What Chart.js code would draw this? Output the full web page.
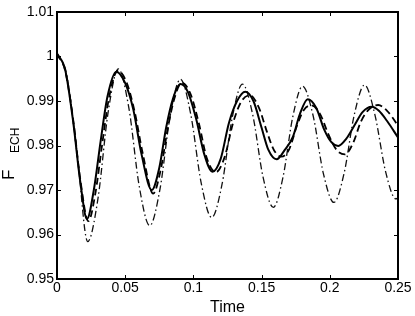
<!DOCTYPE html>
<html>
<head>
<meta charset="utf-8">
<script src="https://cdn.jsdelivr.net/npm/chart.js@4"></script>
<style>
  body { margin: 0; background: #fff; }
  canvas { display: block; }
</style>
</head>
<body>
<canvas id="fechChart" width="415" height="316"></canvas>
<script>
// solid curve
const solidT = [0, 0.006, 0.012, 0.017, 0.022, 0.027, 0.032, 0.037, 0.0435, 0.05, 0.056, 0.062, 0.0695,
  0.075, 0.08, 0.085, 0.0905, 0.096, 0.102, 0.108, 0.114, 0.12, 0.126, 0.132, 0.138, 0.144, 0.15, 0.155,
  0.161, 0.167, 0.173, 0.178, 0.1838, 0.19, 0.196, 0.201, 0.2062, 0.212, 0.218, 0.224, 0.2307, 0.236, 0.242, 0.25];
const solidV = [1.0007, 0.997, 0.985, 0.972, 0.9635, 0.970, 0.981, 0.991, 0.9966, 0.994, 0.988, 0.978, 0.970,
  0.975, 0.984, 0.9905, 0.9938, 0.992, 0.986, 0.978, 0.9741, 0.977, 0.985, 0.990, 0.9921, 0.990, 0.984, 0.979,
  0.9769, 0.979, 0.982, 0.987, 0.9904, 0.9885, 0.9835, 0.9808, 0.9799, 0.9815, 0.9845, 0.9875, 0.9887, 0.9878, 0.9855, 0.9818];

// dashed curve
const dashT = [0, 0.006, 0.012, 0.017, 0.023, 0.028, 0.033, 0.038, 0.0445, 0.051, 0.057, 0.063, 0.0705,
  0.076, 0.081, 0.086, 0.0915, 0.098, 0.104, 0.11, 0.1165, 0.123, 0.129, 0.135, 0.1415, 0.148, 0.154, 0.159,
  0.1645, 0.17, 0.176, 0.181, 0.1865, 0.193, 0.199, 0.205, 0.2111, 0.217, 0.223, 0.229, 0.2355, 0.242, 0.25];
const dashV = [1.0005, 0.9968, 0.9855, 0.9725, 0.963, 0.969, 0.980, 0.9905, 0.9968, 0.9942, 0.9875, 0.978, 0.9692,
  0.9745, 0.9835, 0.9905, 0.9941, 0.9915, 0.985, 0.977, 0.974, 0.9775, 0.985, 0.9898, 0.9913, 0.9885, 0.983, 0.979,
  0.9775, 0.979, 0.9845, 0.988, 0.989, 0.987, 0.9825, 0.979, 0.978, 0.9805, 0.9855, 0.9882, 0.9891, 0.9878, 0.9845];

// dash-dot curve
const dotT = [0, 0.007, 0.015, 0.0225, 0.03, 0.0375, 0.045, 0.0527, 0.0603, 0.068, 0.0755, 0.083, 0.0905,
  0.098, 0.1057, 0.1134, 0.121, 0.1285, 0.136, 0.1435, 0.151, 0.1586, 0.1657, 0.1729, 0.18, 0.1877, 0.1953,
  0.203, 0.2105, 0.218, 0.2255, 0.233, 0.241, 0.2485, 0.25];
const dotV = [1.0007, 0.996, 0.9775, 0.9584, 0.968, 0.9875, 0.9972, 0.9884, 0.9708, 0.962, 0.9702, 0.9867, 0.9949,
  0.9871, 0.9716, 0.9638, 0.9713, 0.9863, 0.9938, 0.9869, 0.973, 0.9661, 0.9729, 0.9865, 0.9933, 0.9868, 0.9737,
  0.9672, 0.9738, 0.987, 0.9936, 0.987, 0.974, 0.968, 0.9682];

const xTicks = [0, 0.05, 0.1, 0.15, 0.2, 0.25];
const yTicks = [0.95, 0.96, 0.97, 0.98, 0.99, 1, 1.01];

const pts = (t, v) => t.map((x, i) => ({ x: x, y: v[i] }));
const fmt = v => String(+v.toFixed(2));
const font = "'Liberation Sans', Arial, sans-serif";

// box with inward ticks on all four sides, plus the F_ECH label
const boxPlugin = {
  id: "box",
  afterDraw(chart) {
    const c = chart.ctx;
    const a = chart.chartArea;
    const xs = chart.scales.x, ys = chart.scales.y;
    c.save();
    c.strokeStyle = "#000";
    c.lineWidth = 1;
    xTicks.forEach(v => {
      const px = Math.round(xs.getPixelForValue(v)) + 0.5;
      c.beginPath();
      c.moveTo(px, a.bottom); c.lineTo(px, a.bottom - 4);
      c.moveTo(px, a.top); c.lineTo(px, a.top + 4);
      c.stroke();
    });
    yTicks.forEach(v => {
      const py = Math.round(ys.getPixelForValue(v)) + 0.5;
      c.beginPath();
      c.moveTo(a.left, py); c.lineTo(a.left + 4, py);
      c.moveTo(a.right, py); c.lineTo(a.right - 4, py);
      c.stroke();
    });
    c.lineWidth = 2;
    c.strokeRect(a.left, a.top, a.right - a.left, a.bottom - a.top);

    c.translate(14, 180);
    c.rotate(-Math.PI / 2);
    c.fillStyle = "#000";
    c.textBaseline = "alphabetic";
    c.font = "17px " + font;
    c.fillText("F", 0, 0);
    c.font = "12px " + font;
    c.fillText("ECH", 27, 5);
    c.restore();
  }
};

const ctx = document.getElementById("fechChart").getContext("2d");

new Chart(ctx, {
  type: "line",
  data: {
    datasets: [
      {
        data: pts(solidT, solidV),
        borderColor: "#000",
        borderWidth: 2,
      },
      {
        data: pts(dashT, dashV),
        borderColor: "#000",
        borderWidth: 1.8,
        borderDash: [7, 4],
      },
      {
        data: pts(dotT, dotV),
        borderColor: "#111",
        borderWidth: 1.3,
        borderDash: [7, 3, 1.5, 3],
      },
    ],
  },
  options: {
    responsive: false,
    animation: false,
    devicePixelRatio: 1,
    layout: { padding: { top: 12, right: 17, left: 0, bottom: 0 } },
    elements: {
      point: { radius: 0 },
      line: { cubicInterpolationMode: "monotone", fill: false },
    },
    scales: {
      x: {
        type: "linear",
        min: 0,
        max: 0.25,
        afterFit: s => { s.height = 37; },
        afterBuildTicks: s => { s.ticks = xTicks.map(v => ({ value: v })); },
        grid: { display: false, drawTicks: false },
        border: { display: false },
        ticks: {
          padding: 1,
          maxRotation: 0,
          color: "#000",
          font: { family: font, size: 14 },
          callback: fmt,
        },
        title: {
          display: true,
          text: "Time",
          color: "#000",
          padding: 0,
          font: { family: font, size: 16, lineHeight: 1.1 },
        },
      },
      y: {
        min: 0.95,
        max: 1.01,
        afterFit: s => { s.width = 57; },
        afterBuildTicks: s => { s.ticks = yTicks.map(v => ({ value: v })); },
        grid: { display: false, drawTicks: false },
        border: { display: false },
        ticks: {
          padding: 3,
          color: "#000",
          font: { family: font, size: 14 },
          callback: fmt,
        },
      },
    },
    plugins: {
      legend: { display: false },
      tooltip: { enabled: false },
    },
  },
  plugins: [boxPlugin],
});
</script>
</body>
</html>
